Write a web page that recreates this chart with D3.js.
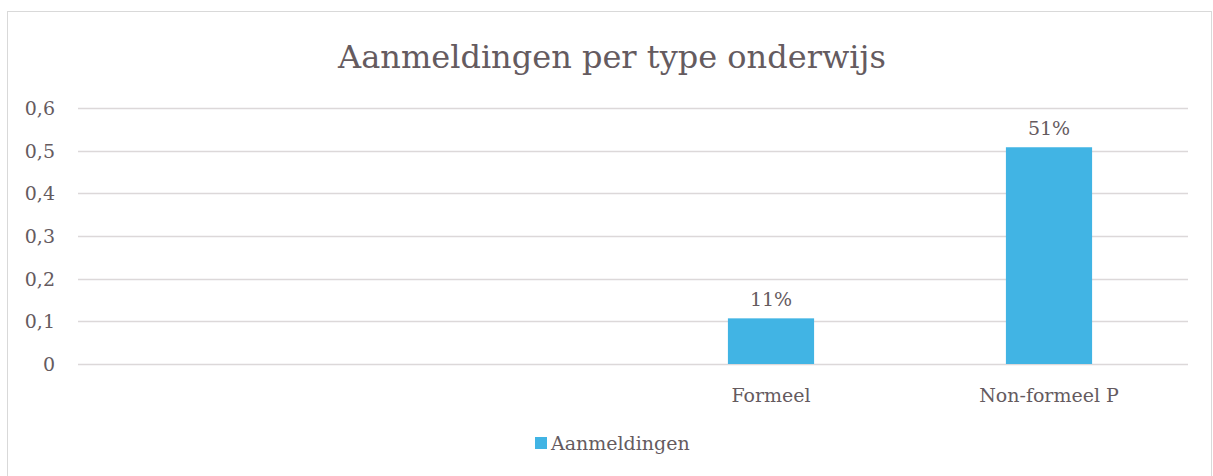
<!DOCTYPE html>
<html>
<head>
<meta charset="utf-8">
<script src="https://cdn.jsdelivr.net/npm/d3@7"></script>
<style>
  body { margin: 0; background: #fff; }
  text { font-family: "DejaVu Serif", "Liberation Serif", serif; fill: #655b5f; }
</style>
</head>
<body>
<svg class="chart"></svg>
<script>
// categories (first two are blank in the source chart)
var categories = ['c1', 'c2', 'Formeel', 'Non-formeel P'];
var categoryLabels = ['', '', 'Formeel', 'Non-formeel P'];
var values = [null, null, 0.107, 0.508];
var valueLabels = ['', '', '11%', '51%'];
var yTicks = [0, 0.1, 0.2, 0.3, 0.4, 0.5, 0.6];
var seriesName = 'Aanmeldingen';

var width = 1213;
var height = 476;
var barColor = '#41b4e4';
var gridColor = '#dcd8d9';

var svg = d3.select('.chart')
    .attr('width', width)
    .attr('height', height);

// outer chart border
svg.append('rect')
    .attr('x', 7.5).attr('y', 11.5)
    .attr('width', 1204).attr('height', 470)
    .attr('fill', 'none')
    .attr('stroke', '#d9d9d9');

svg.append('text')
    .attr('x', 612).attr('y', 68)
    .attr('text-anchor', 'middle')
    .style('font-size', '32px')
    .text('Aanmeldingen per type onderwijs');

var x = d3.scaleBand()
    .domain(categories)
    .range([76, 1188])
    .paddingInner(0.69)
    .paddingOuter(0.345);

var y = d3.scaleLinear()
    .domain([0, 0.6])
    .range([364, 108]);

// gridlines
svg.append('g')
    .selectAll('line')
    .data(yTicks)
    .enter().append('line')
    .attr('x1', 78).attr('x2', 1188)
    .attr('y1', function(d) { return Math.round(y(d)) + 0.5; })
    .attr('y2', function(d) { return Math.round(y(d)) + 0.5; })
    .attr('stroke', gridColor)
    .attr('stroke-width', 1.5);

// y labels
svg.append('g')
    .selectAll('text')
    .data(yTicks)
    .enter().append('text')
    .attr('x', 55)
    .attr('y', function(d) { return y(d) + 7; })
    .attr('text-anchor', 'end')
    .style('font-size', '19px')
    .text(function(d) { return d === 0 ? '0' : d3.format('.1f')(d).replace('.', ','); });

var idx = d3.range(categories.length).filter(function(i) { return values[i] !== null; });

svg.append('g')
    .selectAll('rect')
    .data(idx)
    .enter().append('rect')
    .attr('x', function(i) { return x(categories[i]); })
    .attr('width', x.bandwidth())
    .attr('y', function(i) { return y(values[i]); })
    .attr('height', function(i) { return y(0) - y(values[i]); })
    .attr('fill', barColor);

svg.append('g')
    .selectAll('text')
    .data(idx)
    .enter().append('text')
    .attr('x', function(i) { return x(categories[i]) + x.bandwidth() / 2; })
    .attr('y', function(i) { return y(values[i]) - 12; })
    .attr('text-anchor', 'middle')
    .style('font-size', '19px')
    .text(function(i) { return valueLabels[i]; });

// category axis labels
svg.append('g')
    .selectAll('text')
    .data(categories)
    .enter().append('text')
    .attr('x', function(d) { return x(d) + x.bandwidth() / 2; })
    .attr('y', 402)
    .attr('text-anchor', 'middle')
    .style('font-size', '19px')
    .text(function(d, i) { return categoryLabels[i]; });

// legend
var legend = svg.append('g').attr('transform', 'translate(535,437)');
legend.append('rect')
    .attr('width', 12).attr('height', 12)
    .attr('fill', barColor);
legend.append('text')
    .attr('x', 16).attr('y', 13)
    .style('font-size', '19px')
    .text(seriesName);
</script>
</body>
</html>
